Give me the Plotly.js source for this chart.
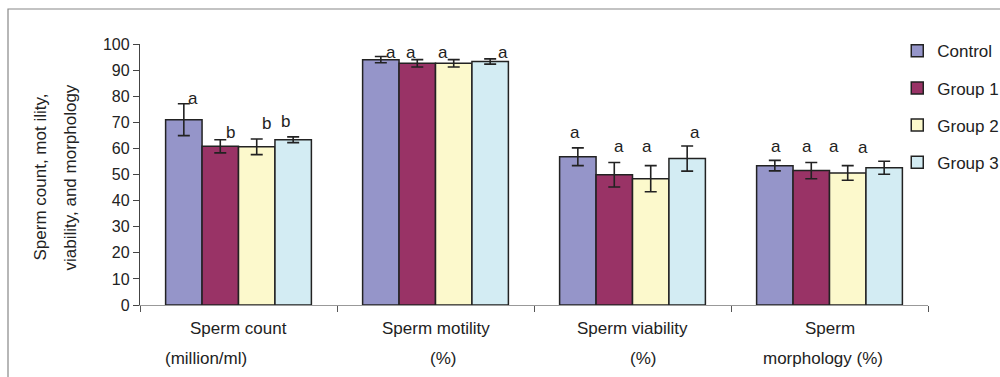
<!DOCTYPE html>
<html>
<head>
<meta charset="utf-8">
<script src="https://cdn.plot.ly/plotly-3.0.1.min.js"></script>
<style>
  html, body { margin: 0; padding: 0; background: #fff; }
  #chart { width: 1000px; height: 377px; }
</style>
</head>
<body>
<div id="chart"></div>
<script>
// ---- data ----
const categories = ["Sperm count", "Sperm motility", "Sperm viability", "Sperm morphology"];
const categoryLine1 = ["Sperm count", "Sperm motility", "Sperm viability", "Sperm"];
const categoryLine2 = ["(million/ml)", "(%)", "(%)", "morphology (%)"];
const groups = ["Control", "Group 1", "Group 2", "Group 3"];

const controlValues = [71.0, 94.0, 56.8, 53.4];
const controlErrors = [6.1, 1.2, 3.4, 2.0];
const group1Values  = [60.8, 92.6, 49.9, 51.5];
const group1Errors  = [2.5, 1.4, 4.7, 3.1];
const group2Values  = [60.6, 92.6, 48.4, 50.6];
const group2Errors  = [3.0, 1.4, 5.0, 2.8];
const group3Values  = [63.3, 93.3, 56.1, 52.6];
const group3Errors  = [1.1, 1.0, 4.8, 2.5];

const controlLetters = ["a", "a", "a", "a"];
const group1Letters  = ["b", "a", "a", "a"];
const group2Letters  = ["b", "a", "a", "a"];
const group3Letters  = ["b", "a", "a", "a"];

const yTitleLines = ["Sperm count, mot ility,", "viability, and morphology"];

// ---- styling / layout helpers (not data) ----
const colors = ["#9595C9", "#993366", "#FCF9CC", "#D3ECF3"];
// pixel nudges of the significance letters [dx, dy] per group, per category
const letterNudge = [
  [[9, 5], [10, 4], [-3, 15], [1, 14]],
  [[10, 7], [-6, 7], [5, 16], [-4, 16]],
  [[10, 16], [-11, 7], [-4, 19], [-14, 19]],
  [[-8, 15], [13, 6], [8, 14], [-21, 14]]
];
const line2Shift = [-33, 7, 10, -7];

const values = [controlValues, group1Values, group2Values, group3Values];
const errors = [controlErrors, group1Errors, group2Errors, group3Errors];
const letters = [controlLetters, group1Letters, group2Letters, group3Letters];

const FONT = "Liberation Sans, Arial, sans-serif";
const bargap = 0.26;
const barW = (1 - bargap) / groups.length;

const traces = groups.map((g, gi) => ({
  type: "bar",
  name: g,
  x: categories,
  y: values[gi],
  legendgroup: "g" + gi,
  marker: { color: colors[gi], line: { color: "#222", width: 1.5 } },
  error_y: { type: "data", array: errors[gi], visible: true, color: "#222", thickness: 1.6, width: 6 },
  hoverinfo: "skip"
}));

const annotations = [];
groups.forEach((g, gi) => {
  categories.forEach((c, ci) => {
    annotations.push({
      xref: "x", yref: "y",
      x: ci + (gi - 1.5) * barW,
      y: values[gi][ci] + errors[gi][ci],
      text: letters[gi][ci],
      showarrow: false,
      xanchor: "center", yanchor: "middle",
      xshift: letterNudge[gi][ci][0],
      yshift: letterNudge[gi][ci][1],
      font: { family: FONT, size: 17, color: "#222" }
    });
  });
});
categories.forEach((c, ci) => {
  annotations.push({
    xref: "x", yref: "paper", x: ci, y: 0, yshift: -23,
    text: categoryLine1[ci], showarrow: false, xanchor: "center", yanchor: "middle",
    font: { family: FONT, size: 17, color: "#222" }
  });
  annotations.push({
    xref: "x", yref: "paper", x: ci, y: 0, yshift: -53, xshift: line2Shift[ci],
    text: categoryLine2[ci], showarrow: false, xanchor: "center", yanchor: "middle",
    font: { family: FONT, size: 17, color: "#222" }
  });
});
yTitleLines.forEach((t, i) => {
  annotations.push({
    xref: "paper", yref: "paper", x: 0, y: 0.5, xshift: -100 + i * 30, yshift: -3,
    text: t, showarrow: false, textangle: -90, xanchor: "center", yanchor: "middle",
    font: { family: FONT, size: 17, color: "#222" }
  });
});

const layout = {
  width: 1000, height: 377,
  margin: { l: 140, r: 72, t: 44, b: 72, autoexpand: false },
  paper_bgcolor: "#fff", plot_bgcolor: "#fff",
  barmode: "group", bargap: bargap, bargroupgap: 0,
  showlegend: true,
  legend: {
    x: 0.961, y: 1.041, xanchor: "left", yanchor: "top",
    font: { family: FONT, size: 17, color: "#222" },
    tracegroupgap: 12, bgcolor: "rgba(0,0,0,0)"
  },
  xaxis: {
    type: "category", range: [-0.5, 3.5], showticklabels: false,
    showline: true, linecolor: "#999", linewidth: 1.2,
    ticks: "outside", tickson: "boundaries", ticklen: 6, tickcolor: "#555",
    showgrid: false, zeroline: false, fixedrange: true
  },
  yaxis: {
    range: [0, 100], dtick: 10, tick0: 0,
    showline: true, linecolor: "#444", linewidth: 1.2,
    ticks: "outside", ticklen: 6, tickcolor: "#444",
    tickfont: { family: FONT, size: 16, color: "#222" },
    showgrid: false, zeroline: false, fixedrange: true
  },
  shapes: [{
    type: "rect", xref: "paper", yref: "paper",
    x0: (8 - 140) / 788, x1: 1.3, y0: -0.6, y1: (305 - 9) / 261,
    line: { color: "#888", width: 1.2 }, fillcolor: "rgba(0,0,0,0)", layer: "below"
  }],
  annotations: annotations
};

Plotly.newPlot("chart", traces, layout, { staticPlot: true, displayModeBar: false });
</script>
</body>
</html>
